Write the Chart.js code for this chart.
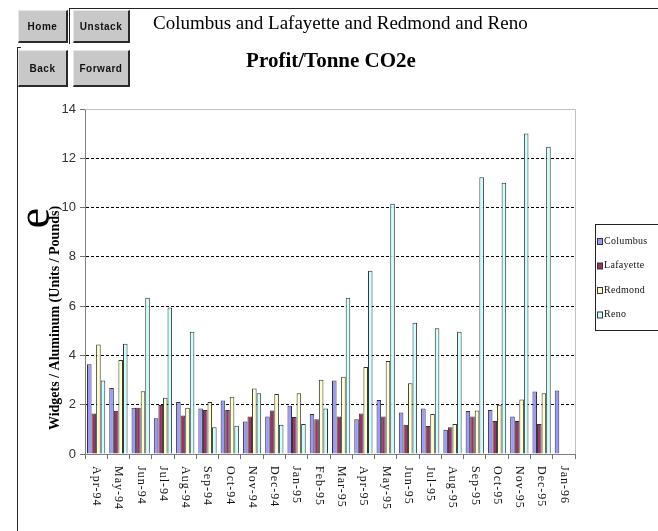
<!DOCTYPE html>
<html>
<head>
<meta charset="utf-8">
<script src="https://cdn.jsdelivr.net/npm/chart.js@4.4.1/dist/chart.umd.min.js"></script>
<style>
  html, body { margin: 0; padding: 0; background: #fff; }
  #wrap { position: relative; width: 658px; height: 531px; overflow: hidden; }
  #c { position: absolute; left: 0; top: 0; }
  .btn {
    position: absolute; box-sizing: border-box;
    background: #c8c8c8; color: #111;
    border-top: 1px solid #e6e6e6; border-left: 1px solid #e6e6e6;
    border-right: 2px solid #2a2a2a; border-bottom: 2px solid #2a2a2a;
    font: bold 10px "Liberation Sans", Arial, sans-serif; letter-spacing: 0.5px;
    display: flex; align-items: center; justify-content: center;
  }
  .ln { position: absolute; background: #222; }
</style>
</head>
<body>
<div id="wrap">
  <canvas id="c" width="658" height="531"></canvas>
  <div class="ln" style="left:69px;top:8px;width:589px;height:1px"></div>
  <div class="ln" style="left:69px;top:8px;width:1px;height:36px"></div>
  <div class="ln" style="left:17px;top:47px;width:1px;height:484px"></div>
  <div class="ln" style="left:17px;top:47px;width:4px;height:1px"></div>
  <div class="btn" style="left:18px;top:10px;width:50px;height:33px">Home</div>
  <div class="btn" style="left:73px;top:10px;width:57px;height:33px">Unstack</div>
  <div class="btn" style="left:18px;top:50px;width:50px;height:37px">Back</div>
  <div class="btn" style="left:73px;top:50px;width:57px;height:37px">Forward</div>
</div>
<script>
// Monthly categories
const months = ['Apr-94','May-94','Jun-94','Jul-94','Aug-94','Sep-94','Oct-94','Nov-94',
  'Dec-94','Jan-95','Feb-95','Mar-95','Apr-95','May-95','Jun-95','Jul-95','Aug-95',
  'Sep-95','Oct-95','Nov-95','Dec-95','Jan-96'];

// Series values per site
const columbus  = [3.64,2.68,1.88,1.45,2.11,1.85,2.17,1.32,1.52,1.96,1.62,2.98,1.41,2.19,1.68,1.85,0.98,1.74,1.79,1.52,2.54,2.58];
const lafayette = [1.64,1.76,1.88,1.99,1.56,1.79,1.79,1.52,1.77,1.50,1.41,1.52,1.64,1.52,1.19,1.14,1.09,1.52,1.34,1.34,1.22,null];
const redmond   = [4.44,3.81,2.55,2.28,1.88,2.11,2.32,2.66,2.43,2.47,3.01,3.13,3.53,3.77,2.87,1.62,1.22,1.77,2.00,2.21,2.47,null];
const reno      = [2.98,4.47,6.34,5.95,4.96,1.09,1.15,2.47,1.19,1.22,1.85,6.34,7.44,10.16,5.33,5.10,4.96,11.23,11.01,13.01,12.47,null];

// Value axis ticks
const yTicks = [0, 2, 4, 6, 8, 10, 12, 14];

const seriesNames = ['Columbus', 'Lafayette', 'Redmond', 'Reno'];
const seriesValues = [columbus, lafayette, redmond, reno];
const seriesColors = ['#9999ff', '#993366', '#ffffcc', '#ccffff'];

const titleText = 'Columbus and Lafayette and Redmond and Reno';
const subtitleText = 'Profit/Tonne CO2e';
const yTitleText = 'Widgets / Aluminum (Units / Pounds)';

const SERIF = '"Liberation Serif", "Times New Roman", serif';

function spacedText(ctx, text, x, y, spacing) {
  ctx.letterSpacing = spacing + 'px';
  ctx.fillText(text, x, y);
  ctx.letterSpacing = '0px';
}

// Frame, titles, rotated month labels and the legend box
const decorations = {
  id: 'decorations',
  afterDraw(chart) {
    const { ctx, chartArea: a } = chart;
    const xs = chart.scales.x;
    ctx.save();

    // light frame along the top and right of the plot area
    ctx.strokeStyle = '#c0c0c0';
    ctx.lineWidth = 1;
    ctx.beginPath();
    ctx.moveTo(a.left, a.top + 0.5);
    ctx.lineTo(a.right + 0.5, a.top + 0.5);
    ctx.lineTo(a.right + 0.5, a.bottom);
    ctx.stroke();

    // titles
    ctx.fillStyle = '#000';
    ctx.textBaseline = 'alphabetic';
    ctx.textAlign = 'left';
    ctx.font = '19px ' + SERIF;
    ctx.fillText(titleText, 153, 29);
    ctx.font = 'bold 21px ' + SERIF;
    ctx.textAlign = 'center';
    ctx.fillText(subtitleText, 331, 67);

    // large rotated letter at the far left
    ctx.save();
    ctx.translate(37, 218);
    ctx.rotate(-Math.PI / 2);
    ctx.font = '46px ' + SERIF;
    ctx.textAlign = 'center';
    ctx.textBaseline = 'middle';
    ctx.fillText('e', 0, 0);
    ctx.restore();

    // value axis title
    ctx.save();
    ctx.translate(55, 318);
    ctx.rotate(-Math.PI / 2);
    ctx.font = 'bold 14px ' + SERIF;
    ctx.textAlign = 'center';
    ctx.textBaseline = 'middle';
    ctx.fillText(yTitleText, 0, 0);
    ctx.restore();

    // month labels, reading downward
    ctx.font = '12px ' + SERIF;
    ctx.fillStyle = '#111';
    months.forEach((m, i) => {
      const x = xs.getPixelForValue(i);
      ctx.save();
      ctx.translate(x, xs.top + 12);
      ctx.rotate(Math.PI / 2);
      ctx.textAlign = 'left';
      ctx.textBaseline = 'middle';
      spacedText(ctx, m, 0, 0, 1);
      ctx.restore();
    });

    // legend
    ctx.strokeStyle = '#222';
    ctx.lineWidth = 1;
    ctx.strokeRect(595.5, 224.5, 80, 106);
    ctx.font = '10px ' + SERIF;
    ctx.textAlign = 'left';
    ctx.textBaseline = 'middle';
    chart.data.datasets.forEach((ds, i) => {
      const cy = 241 + i * 24.5;
      ctx.fillStyle = ds.backgroundColor;
      ctx.fillRect(597.5, cy - 2.5, 5, 6);
      ctx.strokeStyle = '#333';
      ctx.strokeRect(597.5, cy - 2.5, 5, 6);
      ctx.fillStyle = '#111';
      spacedText(ctx, ds.label, 604, cy, 0.3);
    });

    ctx.restore();
  }
};

new Chart(document.getElementById('c'), {
  type: 'bar',
  data: {
    labels: months,
    datasets: seriesNames.map((name, i) => ({
      label: name,
      data: seriesValues[i],
      backgroundColor: seriesColors[i],
      borderColor: '#333',
      borderWidth: 1,
      categoryPercentage: 0.82,
      barPercentage: 1.0
    }))
  },
  options: {
    responsive: false,
    animation: false,
    devicePixelRatio: 1,
    layout: { padding: { top: 109, right: 83, left: 0, bottom: 0 } },
    plugins: {
      legend: { display: false },
      title: { display: false },
      tooltip: { enabled: false }
    },
    scales: {
      x: {
        type: 'category',
        offset: true,
        ticks: { display: false },
        grid: {
          offset: true,
          drawOnChartArea: false,
          drawTicks: true,
          tickLength: 5,
          tickColor: '#707070'
        },
        border: { color: '#808080', width: 1 },
        afterFit(s) { s.height = 77; }
      },
      y: {
        min: 0,
        max: 14,
        afterBuildTicks(s) { s.ticks = yTicks.map(v => ({ value: v })); },
        ticks: {
          color: '#333',
          padding: 4,
          font: { family: '"Liberation Sans Narrow", "Arial Narrow", "Liberation Sans", sans-serif', size: 13 }
        },
        grid: {
          color: c => (c.tick && (c.tick.value === 0 || c.tick.value === 14)) ? 'rgba(0,0,0,0)' : '#000',
          lineWidth: 1,
          drawTicks: true,
          tickLength: 5,
          tickColor: '#707070'
        },
        border: { color: '#808080', width: 1, dash: [3, 2] },
        afterFit(s) { s.width = 85; }
      }
    }
  },
  plugins: [decorations]
});
</script>
</body>
</html>
